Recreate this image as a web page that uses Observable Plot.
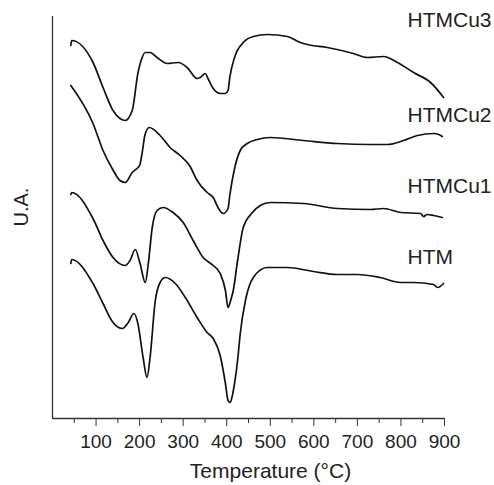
<!DOCTYPE html>
<html><head><meta charset="utf-8">
<script src="https://cdn.jsdelivr.net/npm/d3@7"></script>
<script src="https://cdn.jsdelivr.net/npm/@observablehq/plot@0.6"></script>
<style>body{margin:0;background:#fff} #chart svg{display:block}</style>
</head><body><div id="chart"></div>
<script>
// Temperature (°C) and intensity (arbitrary units)
const seriesNames = ["HTMCu3", "HTMCu2", "HTMCu1", "HTM"];

const tHTMCu3 = [42,44,93,116,139,155,167,183,196,205,213,224,240,263,289,309,332,339,351,357,369,385,397,403,407,418,438,461,493,539,569,585,631,691,723,760,792,829,868,898];
const vHTMCu3 = [373,378,356,331,308,300,298,308,345,360,366,366,361,355,356,351,340,341,345,340,330,325,325,328,341,361,376,382,384,382,376,374,371,365,361,362,356,346,336,321];

const tHTMCu2 = [42,93,116,137,155,167,183,194,200,206,212,222,247,270,293,316,332,355,369,380,392,403,407,418,431,447,470,500,576,654,730,769,806,838,875,887,895];
const vHTMCu2 = [333,295,268,250,238,236,246,250,253,266,283,291,283,271,263,252,238,226,221,211,205,210,223,250,268,275,279,281,278,275,274,274,278,283,285,284,282];

const tHTMCu1 = [42,44,93,116,139,167,178,190,201,213,220,229,240,254,277,300,323,346,369,385,397,403,409,415,424,438,459,477,500,576,654,730,760,799,845,852,860,875,895];
const vHTMCu1 = [224,226,200,178,161,153,158,169,155,136,155,191,208,211,206,196,178,161,153,145,128,111,118,128,155,191,206,213,216,215,210,209,210,206,205,202,204,203,201];

const tHTM = [42,44,93,116,139,160,174,187,196,208,217,224,236,247,259,282,305,332,355,369,385,397,403,408,413,419,425,431,443,461,493,539,599,654,700,752,799,829,875,884,898];
const vHTM = [155,159,135,115,96,90,96,105,95,61,41,61,118,136,141,135,121,101,86,80,63,35,18,16,23,38,58,85,118,141,151,151,147,144,144,141,136,136,134,131,135];

const labelT = [815, 815, 815, 815];
const labelV = [398, 303, 232, 161];

const majorTicks = [100, 200, 300, 400, 500, 600, 700, 800, 900];
const minorTicks = [50, 150, 250, 350, 450, 550, 650, 750, 850];

const tArrays = [tHTMCu3, tHTMCu2, tHTMCu1, tHTM];
const vArrays = [vHTMCu3, vHTMCu2, vHTMCu1, vHTM];
const rows = seriesNames.flatMap((s, i) => tArrays[i].map((t, j) => ({series: s, T: t, v: vArrays[i][j]})));
const labels = seriesNames.map((s, i) => ({series: s, T: labelT[i], v: labelV[i]}));

const font = "'Liberation Sans', Arial, Helvetica, sans-serif";

const chart = Plot.plot({
  width: 494,
  height: 485,
  marginTop: 16,
  marginLeft: 52,
  marginRight: 50,
  marginBottom: 67,
  x: {domain: [0, 900]},
  y: {domain: [0, 402], axis: null},
  style: {fontFamily: font, color: "#222", background: "#fff"},
  marks: [
    Plot.axisX(majorTicks, {tickSize: 8, tickPadding: 8, fontSize: 19, label: null, stroke: "#333"}),
    Plot.axisX(minorTicks, {tickSize: 5, tickFormat: () => "", label: null, stroke: "#333"}),
    Plot.ruleX([0], {stroke: "#333", strokeWidth: 1.3}),
    Plot.ruleY([0], {stroke: "#333", strokeWidth: 1.3}),
    Plot.line(rows, {x: "T", y: "v", z: "series", curve: "monotone-x", stroke: "#111", strokeWidth: 1.7}),
    Plot.text(labels, {x: "T", y: "v", text: "series", textAnchor: "start", fontSize: 21, fill: "#222"}),
    Plot.text(["Temperature (°C)"], {frameAnchor: "bottom", dx: 22, dy: 59, fontSize: 21, fill: "#222"}),
    Plot.text(["U.A."], {frameAnchor: "left", rotate: -90, dx: -31, dy: 9, fontSize: 20, fill: "#222"})
  ]
});
document.getElementById("chart").append(chart);
</script>
</body></html>
